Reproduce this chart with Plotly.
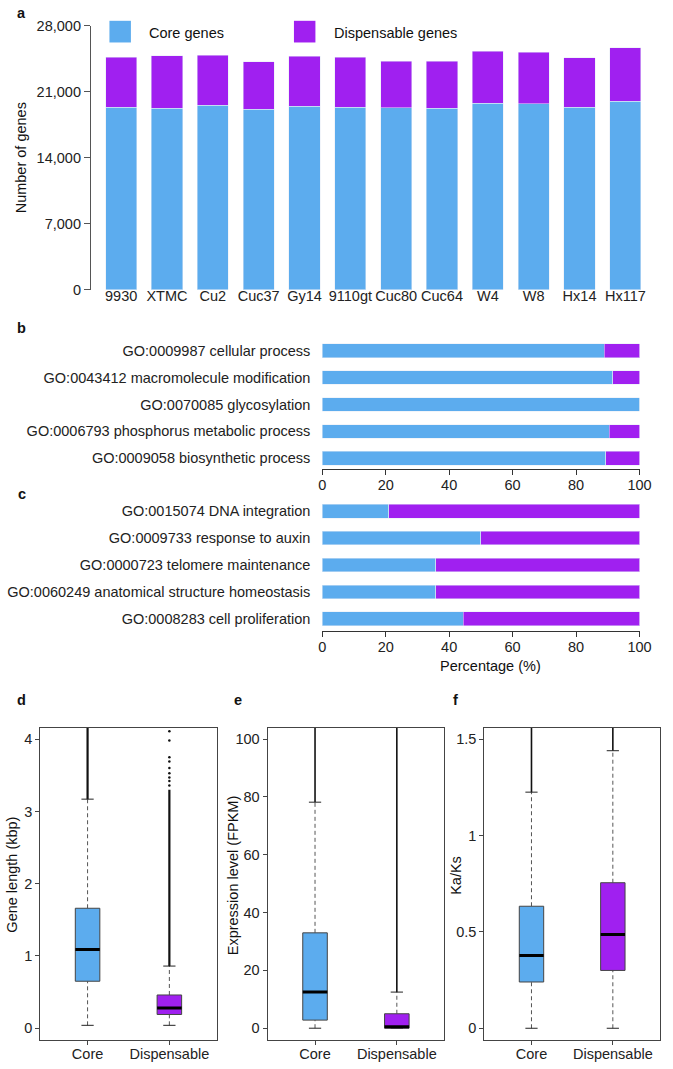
import plotly.graph_objects as go

# ---------------- data ----------------
accessions = ["9930", "XTMC", "Cu2", "Cuc37", "Gy14", "9110gt", "Cuc80", "Cuc64", "W4", "W8", "Hx14", "Hx117"]
core_genes = [19340, 19270, 19550, 19130, 19480, 19375, 19305, 19270, 19760, 19725, 19375, 19970]
dispensable_genes = [5340, 5520, 5340, 5030, 5270, 5305, 4925, 4960, 5550, 5480, 5240, 5690]
a_ticks = [0, 7000, 14000, 21000, 28000]

go_core_terms = ["GO:0009987 cellular process", "GO:0043412 macromolecule modification",
                 "GO:0070085 glycosylation", "GO:0006793 phosphorus metabolic process",
                 "GO:0009058 biosynthetic process"]
go_core_core_pct = [88.9, 91.5, 100.0, 90.5, 89.4]
go_core_disp_pct = [11.1, 8.5, 0.0, 9.5, 10.6]

go_disp_terms = ["GO:0015074 DNA integration", "GO:0009733 response to auxin",
                 "GO:0000723 telomere maintenance", "GO:0060249 anatomical structure homeostasis",
                 "GO:0008283 cell proliferation"]
go_disp_core_pct = [20.9, 49.9, 35.7, 35.7, 44.4]
go_disp_disp_pct = [79.1, 50.1, 64.3, 64.3, 55.6]
pct_ticks = [0, 20, 40, 60, 80, 100]

groups = ["Core", "Dispensable"]
# box statistics: lower whisker, q1, median, q3, upper whisker
length_stats = {"Core": [0.04, 0.65, 1.09, 1.66, 3.17], "Dispensable": [0.04, 0.19, 0.28, 0.46, 0.86]}
length_outlier_top = {"Core": 4.4, "Dispensable": 3.3}
length_sparse_outliers = [3.36, 3.42, 3.47, 3.53, 3.6, 3.69, 3.75, 3.98, 4.11]
expr_stats = {"Core": [0.0, 2.8, 12.5, 33.0, 78.2], "Dispensable": [0.0, 0.0, 0.5, 5.0, 12.5]}
expr_outlier_top = {"Core": 110, "Dispensable": 110}
kaks_stats = {"Core": [0.0, 0.24, 0.378, 0.633, 1.225], "Dispensable": [0.0, 0.30, 0.486, 0.755, 1.44]}
kaks_outlier_top = {"Core": 1.7, "Dispensable": 1.7}

BLUE = "#5CACEE"
PURPLE = "#A020F0"
FONT = "Arial, Liberation Sans, Helvetica, sans-serif"
FS = 14.5
W, H = 673, 1069


def xd(px):
    return px / W


def yd(px):
    return 1 - px / H


fig = go.Figure()

# ---------------- panel a ----------------
fig.add_trace(go.Bar(x=accessions, y=core_genes, marker_color=BLUE, width=0.68,
                     xaxis="x", yaxis="y", name="Core genes"))
fig.add_trace(go.Bar(x=accessions, y=dispensable_genes, marker_color=PURPLE, width=0.68,
                     xaxis="x", yaxis="y", name="Dispensable genes"))

# ---------------- panel b ----------------
fig.add_trace(go.Bar(y=go_core_terms, x=go_core_core_pct, orientation="h", marker_color=BLUE,
                     width=0.51, xaxis="x2", yaxis="y2"))
fig.add_trace(go.Bar(y=go_core_terms, x=go_core_disp_pct, orientation="h", marker_color=PURPLE,
                     width=0.51, xaxis="x2", yaxis="y2"))

# ---------------- panel c ----------------
fig.add_trace(go.Bar(y=go_disp_terms, x=go_disp_core_pct, orientation="h", marker_color=BLUE,
                     width=0.51, xaxis="x3", yaxis="y3"))
fig.add_trace(go.Bar(y=go_disp_terms, x=go_disp_disp_pct, orientation="h", marker_color=PURPLE,
                     width=0.51, xaxis="x3", yaxis="y3"))


# ---------------- panels d, e, f (box plots) ----------------
def add_boxes(stats, outlier_top, xa, ya, band_width, sparse=None):
    hw = 0.15
    cw = 0.075
    for i, g in enumerate(groups):
        pos = i + 1
        lo, q1, med, q3, hi = stats[g]
        color = BLUE if g == "Core" else PURPLE
        # dense outliers above the upper whisker
        fig.add_trace(go.Scatter(x=[pos, pos], y=[hi, outlier_top[g]], mode="lines",
                                 line=dict(color="#111", width=band_width), xaxis=xa, yaxis=ya))
        # whiskers
        fig.add_trace(go.Scatter(x=[pos, pos], y=[q3, hi], mode="lines",
                                 line=dict(color="#555", width=1, dash="4px,3px"), xaxis=xa, yaxis=ya))
        fig.add_trace(go.Scatter(x=[pos, pos], y=[lo, q1], mode="lines",
                                 line=dict(color="#555", width=1, dash="4px,3px"), xaxis=xa, yaxis=ya))
        # caps
        for v in (lo, hi):
            fig.add_trace(go.Scatter(x=[pos - cw, pos + cw], y=[v, v], mode="lines",
                                     line=dict(color="#222", width=1), xaxis=xa, yaxis=ya))
        # box
        fig.add_trace(go.Scatter(x=[pos - hw, pos + hw, pos + hw, pos - hw, pos - hw],
                                 y=[q1, q1, q3, q3, q1], mode="lines", fill="toself",
                                 fillcolor=color, line=dict(color="#444", width=1),
                                 xaxis=xa, yaxis=ya))
        # median
        fig.add_trace(go.Scatter(x=[pos - hw, pos + hw], y=[med, med], mode="lines",
                                 line=dict(color="#000", width=3), xaxis=xa, yaxis=ya))
    if sparse:
        fig.add_trace(go.Scatter(x=[2] * len(sparse), y=sparse, mode="markers",
                                 marker=dict(color="#111", size=2.5), xaxis=xa, yaxis=ya))


add_boxes(length_stats, length_outlier_top, "x4", "y4", 2.2, length_sparse_outliers)
add_boxes(expr_stats, expr_outlier_top, "x5", "y5", 1.6)
add_boxes(kaks_stats, kaks_outlier_top, "x6", "y6", 1.6)

tickfont = dict(family=FONT, size=FS, color="#222")
frame_col = "#444"

layout = dict(
    width=W, height=H, margin=dict(l=0, r=0, t=0, b=0),
    paper_bgcolor="white", plot_bgcolor="white",
    barmode="stack", showlegend=False, font=dict(family=FONT, size=FS, color="#222"),
    # panel a
    xaxis=dict(domain=[xd(89), xd(660)], range=[-0.66, 11.5], anchor="y", showline=False,
               ticks="", showgrid=False, tickfont=tickfont, ticklabelstandoff=-4),
    yaxis=dict(domain=[yd(286), yd(18)], range=[0, 28000], anchor="x", tickvals=a_ticks,
               tickformat=",", showline=True, linecolor="#555", linewidth=1, ticks="outside",
               ticklen=6, tickcolor="#555", showgrid=False, zeroline=False, tickfont=tickfont),
    # panel b
    xaxis2=dict(domain=[xd(326), xd(651)], range=[0, 100], anchor="y2", tickvals=pct_ticks,
                showline=True, linecolor="#333", ticks="outside", ticklen=5, tickcolor="#333",
                showgrid=False, zeroline=False, tickfont=tickfont, ticklabelstandoff=-2),
    yaxis2=dict(domain=[yd(468), yd(334)], type="category", categoryarray=go_core_terms,
                range=[4.40, -0.51], anchor="x2", ticks="outside", ticklen=8,
                tickcolor="rgba(0,0,0,0)", showline=False, showgrid=False, tickfont=tickfont),
    # panel c
    xaxis3=dict(domain=[xd(326), xd(651)], range=[0, 100], anchor="y3", tickvals=pct_ticks,
                showline=True, linecolor="#333", ticks="outside", ticklen=5, tickcolor="#333",
                showgrid=False, zeroline=False, tickfont=tickfont, ticklabelstandoff=-2),
    yaxis3=dict(domain=[yd(632), yd(497)], type="category", categoryarray=go_disp_terms,
                range=[4.44, -0.51], anchor="x3", ticks="outside", ticklen=8,
                tickcolor="rgba(0,0,0,0)", showline=False, showgrid=False, tickfont=tickfont),
)

box_panels = [
    (4, [37, 218], [-0.158, 4.158], [0, 1, 2, 3, 4], ["0", "1", "2", "3", "4"]),
    (5, [270, 451], [-3.95, 103.95], [0, 20, 40, 60, 80, 100], ["0", "20", "40", "60", "80", "100"]),
    (6, [492, 672], [-0.059, 1.559], [0, 0.5, 1, 1.5], ["0", "0.5", "1", "1.5"]),
]
for n, xr, yr, tv, tt in box_panels:
    layout[f"xaxis{n}"] = dict(domain=[xd(xr[0]), xd(xr[1])], range=[0.42, 2.58], anchor=f"y{n}",
                               tickvals=[1, 2], ticktext=groups, showline=True, mirror=True,
                               linecolor=frame_col, linewidth=1, ticks="outside", ticklen=4,
                               tickcolor=frame_col, showgrid=False, zeroline=False, tickfont=tickfont,
                               ticklabelstandoff=-3)
    layout[f"yaxis{n}"] = dict(domain=[yd(1047.3), yd(730.7)], range=yr, anchor=f"x{n}",
                               tickvals=tv, ticktext=tt, showline=True, mirror=True,
                               linecolor=frame_col, linewidth=1, ticks="outside", ticklen=4,
                               tickcolor=frame_col, showgrid=False, zeroline=False, tickfont=tickfont)

fig.update_layout(**layout)

# legend for panel a (drawn manually to match large swatches)
fig.add_shape(type="rect", xref="paper", yref="paper", x0=xd(108), x1=xd(130), y0=yd(35), y1=yd(13),
              fillcolor=BLUE, line=dict(width=0))
fig.add_shape(type="rect", xref="paper", yref="paper", x0=xd(297), x1=xd(319), y0=yd(35), y1=yd(13),
              fillcolor=PURPLE, line=dict(width=0))

annots = [
    dict(text="Core genes", x=xd(146), y=yd(25), xanchor="left", yanchor="middle"),
    dict(text="Dispensable genes", x=xd(336), y=yd(25), xanchor="left", yanchor="middle"),
    dict(text="<b>a</b>", x=xd(18), y=yd(5), xanchor="center", yanchor="middle"),
    dict(text="<b>b</b>", x=xd(18), y=yd(325), xanchor="center", yanchor="middle"),
    dict(text="<b>c</b>", x=xd(18), y=yd(493), xanchor="center", yanchor="middle"),
    dict(text="<b>d</b>", x=xd(18), y=yd(703), xanchor="center", yanchor="middle"),
    dict(text="<b>e</b>", x=xd(240), y=yd(703), xanchor="center", yanchor="middle"),
    dict(text="<b>f</b>", x=xd(462), y=yd(703), xanchor="center", yanchor="middle"),
    dict(text="Percentage (%)", x=xd(498), y=yd(668), xanchor="center", yanchor="middle"),
]
for a in annots:
    fig.add_annotation(text=a["text"], x=a["x"], y=a["y"], xref="paper", yref="paper",
                       xanchor=a["xanchor"], yanchor=a["yanchor"], showarrow=False,
                       font=dict(family=FONT, size=FS, color="#111"))

vtitles = [
    ("Number of genes", 17, 152),
    ("Gene length (kbp)", 8, 880),
    ("Expression level (FPKM)", 234, 880),
    ("Ka/Ks", 463, 880),
]
for t, x, y in vtitles:
    fig.add_annotation(text=t, x=xd(x), y=yd(y), xref="paper", yref="paper", textangle=-90,
                       xanchor="center", yanchor="middle", showarrow=False,
                       font=dict(family=FONT, size=FS, color="#111"))

fig.write_html("out.html", config={"displayModeBar": False},
               post_script="document.body.style.margin='0px';")
